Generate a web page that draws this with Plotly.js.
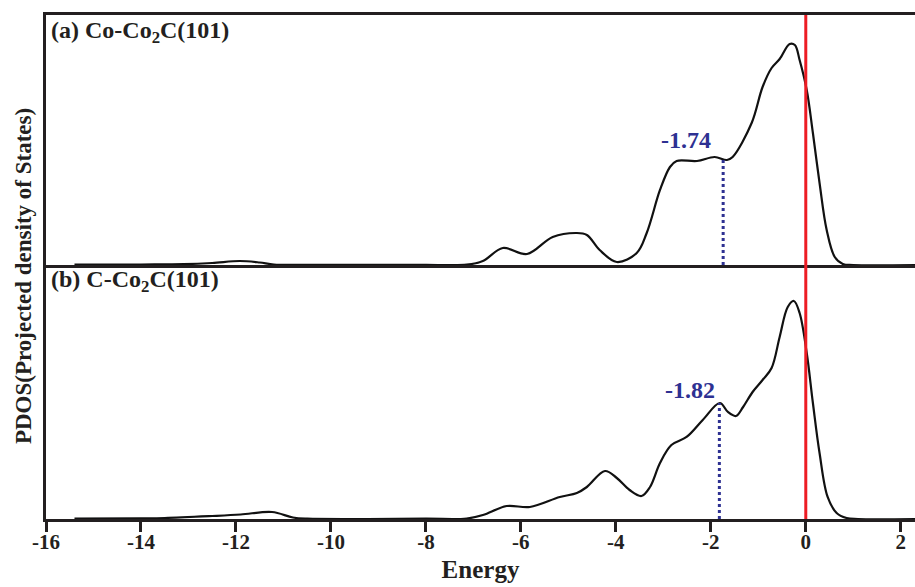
<!DOCTYPE html>
<html>
<head>
<meta charset="utf-8">
<script src="https://cdn.plot.ly/plotly-3.0.1.min.js"></script>
<style>html,body{margin:0;padding:0;background:#fff;}#plot{width:915px;height:587px;}</style>
</head>
<body>
<div id="plot"></div>
<script>
// Energy (eV) and PDOS (arbitrary units)
const energyCo = [-15.4,-14,-13.1,-12.5,-11.92,-11.5,-11.2,-10.5,-8,-7.14,-6.8,-6.38,-5.87,-5.33,-4.82,-4.61,-4.34,-3.98,-3.56,-3.35,-3.07,-2.86,-2.72,-2.29,-1.92,-1.66,-1.54,-1.14,-0.91,-0.72,-0.55,-0.34,-0.23,-0.13,0.02,0.15,0.29,0.44,0.61,0.78,1.0,2.3];
const pdosCo   = [0.3,0.5,0.8,2,4,2.5,0.5,0.2,0.2,0.3,4,17,11,28,32,30,15,3,12,32,75,98,104,104,108,105,108,142,178,197,206,221,220,205,175,132,82,35,8,1,0,0];

const energyC = [-15.4,-14,-13.5,-12.5,-11.9,-11.24,-10.8,-10.5,-8,-7.14,-6.8,-6.3,-5.81,-5.18,-4.82,-4.61,-4.23,-3.98,-3.71,-3.46,-3.28,-3.07,-2.83,-2.51,-2.17,-1.81,-1.64,-1.47,-1.32,-1.12,-0.91,-0.72,-0.55,-0.38,-0.25,-0.13,0.02,0.15,0.29,0.46,0.65,0.86,1.1,2.3];
const pdosC   = [0.5,0.7,1,3,4.5,7,1.5,0.3,0.3,0.5,4,13,12,22,26,32,48,41,29,23,32,56,74,82,99,116,107,103,112,127,139,151,182,212,218,206,166,116,66,22,6,1,0,0];

// d-band centers
const centerCo = -1.74, centerCoHeight = 105;
const centerC = -1.82, centerCHeight = 116;

const tickVals = [-16,-14,-12,-10,-8,-6,-4,-2,0,2];
const tickText = ["-16","-14","-12","-10","-8","-6","-4","-2","0","2"];

const FONT = "'Liberation Serif', 'Times New Roman', serif";
const BLUE = "#2e3192";
const RED = "#ed1c24";
const INK = "#231f20";

const traces = [
  {x: energyCo, y: pdosCo, xaxis: "x", yaxis: "y", mode: "lines",
   line: {color: "#111", width: 2.2, shape: "spline", smoothing: 1}, hoverinfo: "skip"},
  {x: energyC, y: pdosC, xaxis: "x2", yaxis: "y2", mode: "lines",
   line: {color: "#111", width: 2.2, shape: "spline", smoothing: 1}, hoverinfo: "skip"}
];

const axisLine = {showline: true, linecolor: INK, linewidth: 3, showgrid: false, zeroline: false};

const layout = {
  width: 915, height: 587,
  margin: {l: 46, r: 0, t: 15, b: 68},
  paper_bgcolor: "#fff", plot_bgcolor: "#fff",
  showlegend: false,
  font: {family: FONT, color: INK, size: 21, weight: "bold"},
  xaxis: Object.assign({}, axisLine, {anchor: "y", range: [-16, 2.3], mirror: true, ticks: "", showticklabels: false}),
  xaxis2: Object.assign({}, axisLine, {anchor: "y2", range: [-16, 2.3], ticks: "outside", ticklen: 10, tickwidth: 3, tickcolor: INK,
    tickvals: tickVals, ticktext: tickText, ticklabelstandoff: -8,
    tickfont: {family: FONT, size: 21, weight: "bold", color: INK},
    title: {text: "Energy", font: {family: FONT, size: 25, weight: "bold", color: INK}, standoff: 8}}),
  yaxis: Object.assign({}, axisLine, {anchor: "x", domain: [0.504, 1], range: [0, 250], showticklabels: false, ticks: ""}),
  yaxis2: Object.assign({}, axisLine, {anchor: "x2", domain: [0, 0.504], range: [0, 254], showticklabels: false, ticks: ""}),
  shapes: [
    {type: "line", xref: "x", yref: "paper", x0: 0, x1: 0, y0: 0, y1: 1, line: {color: RED, width: 3}},
    {type: "line", xref: "x", yref: "y", x0: centerCo, x1: centerCo, y0: 0, y1: centerCoHeight, line: {color: BLUE, width: 3, dash: "dot"}},
    {type: "line", xref: "x2", yref: "y2", x0: centerC, x1: centerC, y0: 0, y1: centerCHeight, line: {color: BLUE, width: 3, dash: "dot"}}
  ],
  annotations: [
    {xref: "paper", yref: "paper", x: 0.004, y: 1.0, xanchor: "left", yanchor: "top", showarrow: false,
     text: "(a) Co-Co<sub>2</sub>C(101)", font: {family: FONT, size: 24, weight: "bold", color: INK}},
    {xref: "paper", yref: "paper", x: 0.004, y: 0.506, xanchor: "left", yanchor: "top", showarrow: false,
     text: "(b) C-Co<sub>2</sub>C(101)", font: {family: FONT, size: 24, weight: "bold", color: INK}},
    {xref: "x", yref: "y", x: -2.53, y: 125, showarrow: false, text: String(centerCo),
     font: {family: FONT, size: 24, weight: "bold", color: BLUE}},
    {xref: "x2", yref: "y2", x: -2.43, y: 129, showarrow: false, text: String(centerC),
     font: {family: FONT, size: 24, weight: "bold", color: BLUE}},
    {xref: "paper", yref: "paper", x: -0.0265, y: 0.482, xanchor: "center", yanchor: "middle", textangle: -90, showarrow: false,
     text: "PDOS(Projected density of States)", font: {family: FONT, size: 23, weight: "bold", color: INK}}
  ]
};

Plotly.newPlot("plot", traces, layout, {displayModeBar: false, staticPlot: true});
</script>
</body>
</html>
